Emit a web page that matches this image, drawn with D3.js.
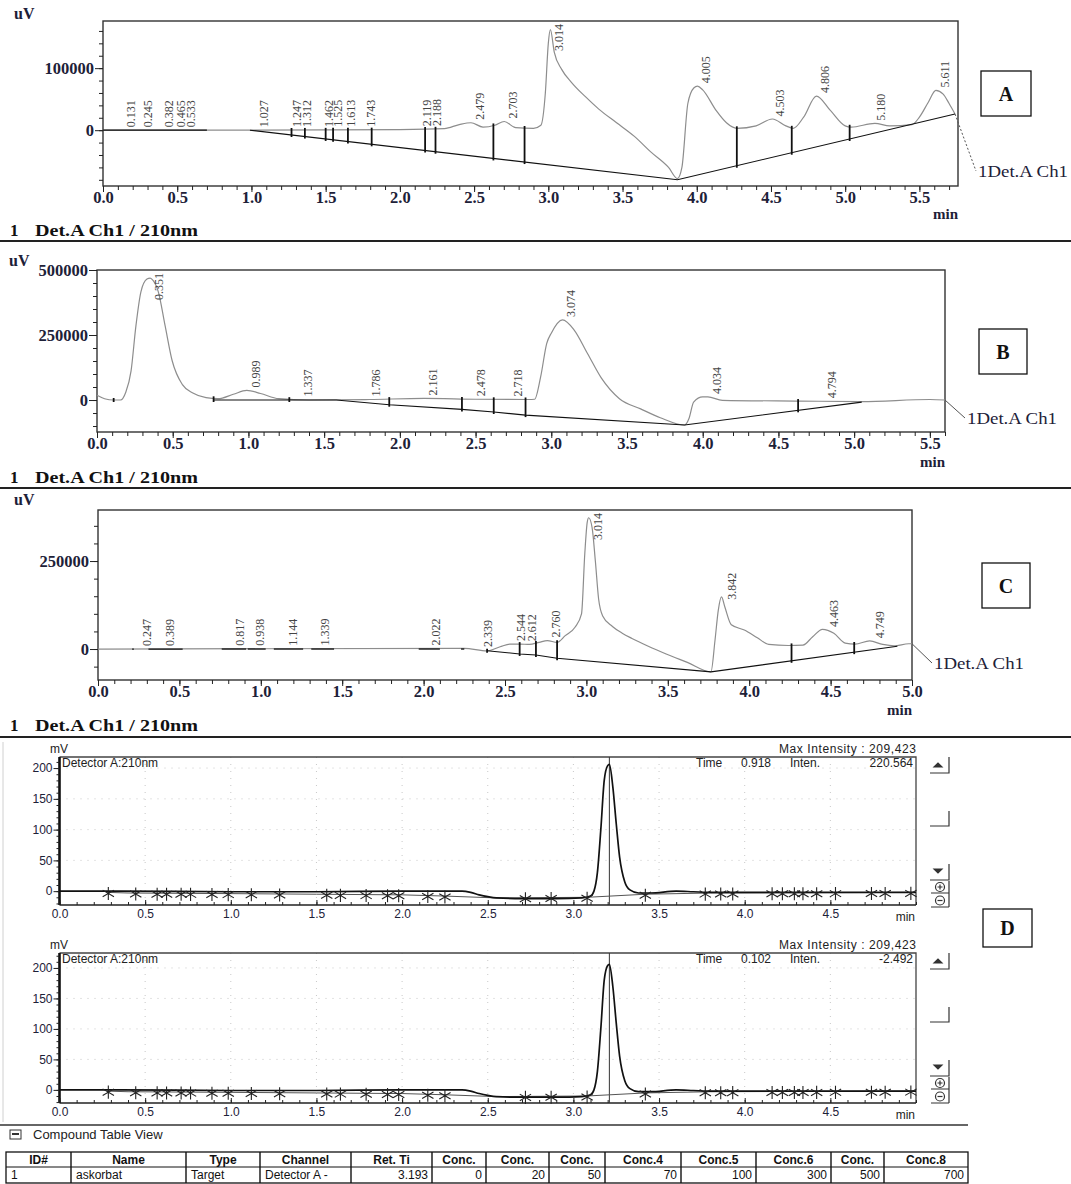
<!DOCTYPE html>
<html lang="en">
<head>
<meta charset="UTF-8">
<title>Chromatograms A-D</title>
<style>
  html, body { margin: 0; padding: 0; background: #fff; }
  svg { display: block; }
</style>
</head>
<body>
<div id="chart"></div>
<script src="https://cdn.jsdelivr.net/npm/d3@7"></script>
<script>
// ---------- data: panel A ----------
const aSigT = [0, 1.0, 2.0, 2.3, 2.4, 2.479, 2.56, 2.64, 2.703, 2.78, 2.9, 2.95, 2.98, 3.0, 3.014, 3.04, 3.09, 3.16, 3.25, 3.34, 3.46, 3.58, 3.69, 3.81, 3.87, 3.9, 3.94, 3.98, 4.005, 4.04, 4.13, 4.2, 4.27, 4.4, 4.51, 4.6, 4.65, 4.72, 4.806, 4.9, 5.0, 5.04, 5.2, 5.3, 5.45, 5.5, 5.56, 5.611, 5.66, 5.7, 5.74];
const aSigV = [0, 0, 1000, 2500, 9000, 12000, 5000, 8000, 14000, 4000, 3000, 8000, 60000, 140000, 162000, 126000, 98000, 76000, 54000, 34000, 12000, -10000, -35000, -60000, -78000, -60000, 43000, 68000, 71000, 65000, 32000, 12000, 3000, 7000, 18000, 7000, 3000, 21000, 55000, 32000, 7000, 5000, 11000, 7000, 9000, 21000, 45000, 64000, 58000, 43000, 26000];
const aBaseT = [0.99, 3.87, 5.74];
const aBaseV = [0, -80000, 26000];
const aFlat = [[0, 0.7]];
const aDrops = [1.27, 1.36, 1.50, 1.55, 1.65, 1.81, 2.17, 2.24, 2.63, 2.84, 4.27, 4.64, 5.03];
const aPeaks = [0.131, 0.245, 0.382, 0.465, 0.533, 1.027, 1.247, 1.312, 1.462, 1.525, 1.613, 1.743, 2.119, 2.188, 2.479, 2.703, 3.014, 4.005, 4.503, 4.806, 5.180, 5.611];

// ---------- data: panel B ----------
const bSigT = [0, 0.05, 0.11, 0.155, 0.19, 0.225, 0.257, 0.29, 0.33, 0.351, 0.37, 0.405, 0.45, 0.496, 0.564, 0.633, 0.72, 0.8, 0.9, 0.989, 1.08, 1.2, 1.4, 1.8, 2.16, 2.5, 2.85, 2.89, 2.93, 2.97, 3.0, 3.074, 3.15, 3.24, 3.33, 3.45, 3.59, 3.72, 3.88, 3.91, 3.94, 4.0, 4.034, 4.13, 4.64, 5.05, 5.5, 5.6];
const bSigV = [18000, 5000, 0, 0, 30000, 112000, 285000, 416000, 465000, 469000, 460000, 416000, 285000, 152000, 59000, 27000, 9000, 5000, 22000, 37000, 25000, 5000, 0, 2000, 6000, 3000, 2000, 3000, 90000, 218000, 257000, 308000, 270000, 178000, 85000, 5000, -34000, -68000, -96000, -70000, -8000, 12000, 12000, -1000, -4000, -6000, 2000, 0];
const bBaseT = [0.77, 1.58, 1.93, 2.41, 2.62, 2.83, 3.88, 5.05];
const bBaseV = [0, 0, -18000, -36000, -46000, -58000, -96000, -8000];
const bFlat = [];
const bDrops = [0.11, 0.77, 1.27, 1.93, 2.41, 2.62, 2.83, 4.63];
const bPeaks = [0.351, 0.989, 1.337, 1.786, 2.161, 2.478, 2.718, 3.074, 4.034, 4.794];

// ---------- data: panel C ----------
const cSigT = [0, 2.25, 2.39, 2.47, 2.53, 2.59, 2.65, 2.71, 2.76, 2.82, 2.87, 2.93, 2.97, 2.99, 3.005, 3.014, 3.035, 3.055, 3.075, 3.1, 3.16, 3.22, 3.28, 3.38, 3.49, 3.62, 3.765, 3.79, 3.81, 3.83, 3.85, 3.89, 3.97, 4.05, 4.12, 4.24, 4.33, 4.39, 4.45, 4.52, 4.59, 4.65, 4.74, 4.82, 4.89, 4.98, 5.0];
const cSigV = [0, 2000, -5000, 6500, 14000, 14000, 13000, 19000, 24000, 19000, 38000, 62000, 100000, 270000, 360000, 373000, 345000, 250000, 142000, 94000, 64000, 45000, 30000, 8000, -14000, -38000, -65000, 25000, 110000, 148000, 120000, 69000, 54000, 32000, 13000, 10000, 11000, 35000, 56000, 45000, 17000, 14000, 23000, 13000, 9000, 15000, 15000];
const cBaseT = [2.39, 2.59, 2.69, 2.82, 3.765, 4.91];
const cBaseV = [-5000, -14000, -17000, -26000, -65000, 8000];
const cFlat = [[0.21, 0.22], [0.31, 0.52], [0.76, 0.91], [0.92, 1.03], [1.08, 1.26], [1.31, 1.45], [1.97, 2.1], [2.23, 2.25]];
const cDrops = [2.39, 2.59, 2.69, 2.82, 4.26, 4.645];
const cPeaks = [0.247, 0.389, 0.817, 0.938, 1.144, 1.339, 2.022, 2.339, 2.544, 2.612, 2.760, 3.014, 3.842, 4.463, 4.749];

// ---------- data: panel D (same run shown twice) ----------
const dSigT = [0, 0.35, 1.0, 1.5, 2.0, 2.35, 2.4, 2.45, 2.5, 2.55, 2.7, 2.9, 3.05, 3.1, 3.12, 3.14, 3.16, 3.18, 3.2, 3.21, 3.23, 3.25, 3.27, 3.3, 3.33, 3.38, 3.45, 3.6, 3.7, 3.8, 4.0, 4.5, 5.0];
const dSigV = [0, 0, -1, -1, 0, 0, -2, -6, -9, -11, -12, -12, -11, -8, 0, 30, 100, 180, 204, 206, 170, 110, 55, 15, 2, -3, -3, 0, -1, -2, -2, -2, -2];
const dBaseT = [0.28, 0.4, 1.0, 1.5, 2.0, 2.25, 2.55, 3.08, 3.42, 3.8, 5.0];
const dBaseV = [-2, -3, -4, -5, -6, -8, -11, -10, -5, -3, -2];
const dStars = [0.285, 0.445, 0.57, 0.625, 0.71, 0.765, 0.89, 0.985, 1.12, 1.285, 1.56, 1.64, 1.79, 1.915, 1.98, 2.15, 2.25, 2.72, 2.87, 3.08, 3.42, 3.77, 3.86, 3.93, 4.16, 4.22, 4.29, 4.34, 4.42, 4.53, 4.74, 4.82, 4.97];
const dCursor = 3.21;
const dTicksY = [0, 50, 100, 150, 200];
const dTicksX = [0, 0.5, 1.0, 1.5, 2.0, 2.5, 3.0, 3.5, 4.0, 4.5];

// ---------- compound table ----------
const tableHead = ["ID#", "Name", "Type", "Channel", "Ret. Ti", "Conc.", "Conc.", "Conc.", "Conc.4", "Conc.5", "Conc.6", "Conc.", "Conc.8"];
const tableRow = ["1", "askorbat", "Target", "Detector A -", "3.193", "0", "20", "50", "70", "100", "300", "500", "700"];

const SERIF = '"Liberation Serif", "DejaVu Serif", serif';
const SANS = '"Liberation Sans", Arial, sans-serif';
const INK = "#1d2138";

const svg = d3.select("#chart").append("svg").attr("width", 1071).attr("height", 1184);
svg.append("rect").attr("width", 1071).attr("height", 1184).attr("fill", "#fff");

function lerp(ts, vs) {
    return d3.scaleLinear().domain(ts).range(vs).clamp(true);
}

function styleAxis(a, size, bold, family) {
    a.select(".domain").remove();
    a.attr("font-family", family).attr("font-size", size)
        .attr("font-weight", bold ? "bold" : "normal").attr("color", "#222");
    a.selectAll("text").attr("fill", INK);
}

function tenths(max) {
    return d3.range(0, Math.floor(max * 10 + 1e-6) + 1).map(i => i / 10);
}

function drawPanel(p) {
    const g = svg.append("g");
    const x = d3.scaleLinear().domain(p.xDomain).range([p.left, p.right]);
    const y = d3.scaleLinear().domain(p.yDomain).range([p.bottom, p.top]);
    const sig = lerp(p.sigT, p.sigV);
    const base = lerp(p.baseT, p.baseV);

    g.append("rect")
        .attr("x", p.left).attr("y", p.top)
        .attr("width", p.right - p.left).attr("height", p.bottom - p.top)
        .attr("fill", "none").attr("stroke", "#333").attr("stroke-width", 1.4);

    // x axis
    const xs = tenths(p.xDomain[1]);
    g.append("g").attr("transform", `translate(0,${p.bottom})`)
        .call(d3.axisBottom(x).tickValues(xs).tickSize(4).tickFormat(""))
        .call(a => styleAxis(a, 16.5, true, SERIF));
    g.append("g").attr("transform", `translate(0,${p.bottom})`)
        .call(d3.axisBottom(x).tickValues(xs.filter((d, i) => i % 5 === 0)).tickSize(6).tickPadding(-1).tickFormat(d3.format(".1f")))
        .call(a => styleAxis(a, 16.5, true, SERIF));

    // y axis
    g.append("g").attr("transform", `translate(${p.left},0)`)
        .call(d3.axisLeft(y).tickValues(p.yMinor).tickSize(4).tickFormat(""))
        .call(a => styleAxis(a, 16.5, true, SERIF));
    g.append("g").attr("transform", `translate(${p.left},0)`)
        .call(d3.axisLeft(y).tickValues(p.yMajor).tickSize(8).tickPadding(1).tickFormat(d3.format("d")))
        .call(a => styleAxis(a, 16.5, true, SERIF));

    const line = d3.line().x(d => x(d[0])).y(d => y(d[1]));

    // signal
    g.append("path")
        .datum(p.sigT.map((t, i) => [t, p.sigV[i]]))
        .attr("fill", "none").attr("stroke", "#8d8d8d").attr("stroke-width", 1.2)
        .attr("d", line.curve(d3.curveMonotoneX));

    // baselines
    line.curve(d3.curveLinear);
    g.append("path")
        .datum(p.baseT.map((t, i) => [t, p.baseV[i]]))
        .attr("fill", "none").attr("stroke", "#111").attr("stroke-width", 1.1)
        .attr("d", line);
    g.selectAll(null).data(p.flat).join("line")
        .attr("x1", d => x(d[0])).attr("x2", d => x(d[1]))
        .attr("y1", y(0)).attr("y2", y(0))
        .attr("stroke", "#111").attr("stroke-width", 1.3);

    // drop lines
    g.selectAll(null).data(p.drops).join("line")
        .attr("x1", d => x(d)).attr("x2", d => x(d))
        .attr("y1", d => y(Math.max(sig(d), base(d))) - 2)
        .attr("y2", d => y(Math.min(sig(d), base(d))) + 2)
        .attr("stroke", "#111").attr("stroke-width", 1.8);

    // retention time labels
    g.selectAll(null).data(p.peaks).join("text")
        .attr("font-family", SERIF).attr("font-size", 12).attr("fill", "#444")
        .text(d => d.toFixed(3))
        .each(function (d) {
            const len = this.getComputedTextLength();
            let yy = y(sig(d)) - 3;
            if (yy - len < p.top + 3) yy = p.top + 3 + len;
            d3.select(this).attr("transform", `translate(${x(d) + 13},${yy}) rotate(-90)`);
        });

    // channel tag
    const tEnd = p.sigT[p.sigT.length - 1];
    g.append("line")
        .attr("x1", x(tEnd)).attr("y1", y(sig(tEnd)))
        .attr("x2", p.tag[0] - 2).attr("y2", p.tag[1] - 6)
        .attr("stroke", "#555").attr("stroke-width", 1)
        .attr("stroke-dasharray", p.tagDash ? "2,2" : null);
    g.append("text").attr("x", p.tag[0]).attr("y", p.tag[1])
        .attr("font-family", SERIF).attr("font-size", 17).attr("fill", INK)
        .attr("textLength", 90).attr("lengthAdjust", "spacingAndGlyphs")
        .text("1Det.A Ch1");

    g.append("text").attr("x", p.uv[0]).attr("y", p.uv[1])
        .attr("font-family", SERIF).attr("font-size", 16).attr("font-weight", "bold").attr("fill", INK)
        .text("uV");
    g.append("text").attr("x", p.right).attr("y", p.minY).attr("text-anchor", "end")
        .attr("font-family", SERIF).attr("font-size", 15).attr("font-weight", "bold").attr("fill", INK)
        .text("min");

    g.append("text").attr("x", 10).attr("y", p.headY)
        .attr("font-family", SERIF).attr("font-size", 17).attr("font-weight", "bold").attr("fill", "#111")
        .text("1");
    g.append("text").attr("x", 35).attr("y", p.headY)
        .attr("font-family", SERIF).attr("font-size", 17).attr("font-weight", "bold").attr("fill", "#111")
        .attr("textLength", 163).attr("lengthAdjust", "spacingAndGlyphs")
        .text("Det.A Ch1 / 210nm");
    g.append("line").attr("x1", 0).attr("x2", 1071).attr("y1", p.sepY).attr("y2", p.sepY)
        .attr("stroke", "#222").attr("stroke-width", 2);

    letterBox(p.box, p.letter);
}

function letterBox(b, letter) {
    svg.append("rect").attr("x", b[0]).attr("y", b[1]).attr("width", b[2]).attr("height", b[3])
        .attr("fill", "#fff").attr("stroke", "#111").attr("stroke-width", 1.3);
    svg.append("text").attr("x", b[0] + b[2] / 2).attr("y", b[1] + b[3] / 2 + 7)
        .attr("text-anchor", "middle")
        .attr("font-family", SERIF).attr("font-size", 20).attr("font-weight", "bold").attr("fill", "#111")
        .text(letter);
}

drawPanel({
    xDomain: [0, 5.76], yDomain: [-90000, 176000], left: 103, right: 958, top: 21, bottom: 186,
    yMinor: d3.range(-80000, 170000, 20000), yMajor: [0, 100000],
    sigT: aSigT, sigV: aSigV, baseT: aBaseT, baseV: aBaseV, flat: aFlat, drops: aDrops, peaks: aPeaks,
    tag: [978, 177], tagDash: true, uv: [14, 19], minY: 219, headY: 236, sepY: 241,
    box: [981, 71, 50, 45], letter: "A"
});

drawPanel({
    xDomain: [0, 5.6], yDomain: [-123000, 500000], left: 97, right: 945, top: 270, bottom: 432,
    yMinor: d3.range(-100000, 500001, 50000), yMajor: [0, 250000, 500000],
    sigT: bSigT, sigV: bSigV, baseT: bBaseT, baseV: bBaseV, flat: bFlat, drops: bDrops, peaks: bPeaks,
    tag: [967, 424], tagDash: false, uv: [9, 266], minY: 467, headY: 483, sepY: 488,
    box: [979, 329, 48, 45], letter: "B"
});

drawPanel({
    xDomain: [0, 5.0], yDomain: [-88000, 395000], left: 98, right: 912, top: 510, bottom: 680,
    yMinor: d3.range(-50000, 350001, 50000), yMajor: [0, 250000],
    sigT: cSigT, sigV: cSigV, baseT: cBaseT, baseV: cBaseV, flat: cFlat, drops: cDrops, peaks: cPeaks,
    tag: [934, 669], tagDash: false, uv: [14, 505], minY: 715, headY: 731, sepY: 737,
    box: [982, 563, 48, 45], letter: "C"
});

// ---------- panel D ----------
function drawD(p) {
    const g = svg.append("g");
    const left = 59.5, right = 916;
    const x = d3.scaleLinear().domain([0, 5.0]).range([left, right]);
    const y = d3.scaleLinear().domain(p.yDomain).range([p.bottom, p.top]);
    const base = lerp(dBaseT, dBaseV);

    // dotted grid
    g.selectAll(null).data(dTicksX.slice(1)).join("line")
        .attr("x1", d => x(d)).attr("x2", d => x(d)).attr("y1", p.top).attr("y2", p.bottom)
        .attr("stroke", "#c8c8c8").attr("stroke-dasharray", "1,6");
    g.selectAll(null).data(dTicksY.slice(1)).join("line")
        .attr("x1", left).attr("x2", right).attr("y1", d => y(d)).attr("y2", d => y(d))
        .attr("stroke", "#c8c8c8").attr("stroke-dasharray", "1,6");

    // frame
    g.append("path").attr("d", `M${left},${p.top}H${right}V${p.bottom}`)
        .attr("fill", "none").attr("stroke", "#444").attr("stroke-width", 1.3);
    g.append("line").attr("x1", left).attr("x2", right).attr("y1", p.bottom).attr("y2", p.bottom)
        .attr("stroke", "#222").attr("stroke-width", 1.6);
    g.append("line").attr("x1", left).attr("x2", left).attr("y1", p.top).attr("y2", p.bottom)
        .attr("stroke", "#111").attr("stroke-width", 2.6);

    // axes
    g.append("g").attr("transform", `translate(${left},0)`)
        .call(d3.axisLeft(y).tickValues(d3.range(-20, p.yDomain[1], 10)).tickSize(3).tickFormat(""))
        .call(a => styleAxis(a, 12, false, SANS));
    g.append("g").attr("transform", `translate(${left},0)`)
        .call(d3.axisLeft(y).tickValues(dTicksY).tickSize(6).tickPadding(1))
        .call(a => styleAxis(a, 12, false, SANS));
    g.append("g").attr("transform", `translate(0,${p.bottom})`)
        .call(d3.axisBottom(x).tickValues(tenths(5.0)).tickSizeInner(-3).tickSizeOuter(0).tickFormat(""))
        .call(a => styleAxis(a, 12, false, SANS));
    g.append("g").attr("transform", `translate(0,${p.bottom})`)
        .call(d3.axisBottom(x).tickValues(dTicksX).tickSizeInner(-5).tickSizeOuter(0).tickPadding(4).tickFormat(d3.format(".1f")))
        .call(a => styleAxis(a, 12, false, SANS));

    // cursor
    g.append("line").attr("x1", x(dCursor)).attr("x2", x(dCursor)).attr("y1", p.top).attr("y2", p.bottom)
        .attr("stroke", "#333").attr("stroke-width", 1);

    // baseline + signal
    const line = d3.line().x(d => x(d[0])).y(d => y(d[1]));
    g.append("path").datum(dBaseT.map((t, i) => [t, dBaseV[i]]))
        .attr("fill", "none").attr("stroke", "#555").attr("stroke-width", 1)
        .attr("d", line);
    g.append("path").datum(dSigT.map((t, i) => [t, dSigV[i]]))
        .attr("fill", "none").attr("stroke", "#111").attr("stroke-width", 1.7)
        .attr("d", line.curve(d3.curveMonotoneX));

    // peak markers
    const star = d3.symbol().type(d3.symbolAsterisk).size(120);
    g.selectAll(null).data(dStars).join("path")
        .attr("transform", d => `translate(${x(d)},${y(base(d)) + 1})`)
        .attr("d", star).attr("fill", "none").attr("stroke", "#222").attr("stroke-width", 1.1);

    // texts
    const txt = (tx, ty, s, anchor) => g.append("text").attr("x", tx).attr("y", ty)
        .attr("text-anchor", anchor || "start")
        .attr("font-family", SANS).attr("font-size", 12).attr("fill", "#222").text(s);
    txt(50, p.top - 4, "mV");
    txt(62, p.top + 10, "Detector A:210nm");
    txt(right, p.top - 4, "Max Intensity : 209,423", "end").attr("textLength", 137);
    txt(696, p.top + 10, "Time");
    txt(741, p.top + 10, p.time);
    txt(790, p.top + 10, "Inten.");
    txt(right - 3, p.top + 10, p.inten, "end");
    txt(right - 1, p.bottom + 16, "min", "end");

    // side controls
    const c = g.append("g").attr("fill", "none").attr("stroke", "#333").attr("stroke-width", 1.2);
    const t0 = p.top;
    c.append("path").attr("d", `M930,${t0 + 16}H949V${t0}`);
    c.append("path").attr("d", `M934,${t0 + 10}H942L938,${t0 + 6}Z`).attr("fill", "#333");
    c.append("path").attr("d", `M930,${t0 + 69}H949V${t0 + 54}`);
    c.append("path").attr("d", `M930,${t0 + 123}H949V${t0 + 107}`);
    c.append("path").attr("d", `M934,${t0 + 112}H942L938,${t0 + 116}Z`).attr("fill", "#333");
    c.append("path").attr("d", `M931,${t0 + 136}H949M931,${t0 + 150}H949M949,${t0 + 124}V${t0 + 150}`);
    c.append("circle").attr("cx", 940).attr("cy", t0 + 130).attr("r", 4.5);
    c.append("path").attr("d", `M937.5,${t0 + 130}H942.5M940,${t0 + 127.5}V${t0 + 132.5}`);
    c.append("circle").attr("cx", 940).attr("cy", t0 + 143.5).attr("r", 4.5);
    c.append("path").attr("d", `M937.5,${t0 + 143.5}H942.5`);
}

drawD({ top: 757, bottom: 905, yDomain: [-22.5, 218], time: "0.918", inten: "220.564" });
drawD({ top: 953, bottom: 1103, yDomain: [-21.5, 224.5], time: "0.102", inten: "-2.492" });
letterBox([983, 909, 49, 38], "D");

svg.append("line").attr("x1", 3).attr("x2", 3).attr("y1", 742).attr("y2", 1122)
    .attr("stroke", "#d0d0d0");

// ---------- compound table ----------
svg.append("line").attr("x1", 0).attr("x2", 968).attr("y1", 1125).attr("y2", 1125)
    .attr("stroke", "#333").attr("stroke-width", 1.3);
svg.append("rect").attr("x", 10).attr("y", 1130).attr("width", 11).attr("height", 9)
    .attr("fill", "none").attr("stroke", "#333");
svg.append("line").attr("x1", 12).attr("x2", 19).attr("y1", 1134).attr("y2", 1134).attr("stroke", "#333").attr("stroke-width", 2);
svg.append("text").attr("x", 33).attr("y", 1139)
    .attr("font-family", SANS).attr("font-size", 13).attr("fill", "#222").text("Compound Table View");

const colEdges = [6, 71, 186, 260, 351, 432, 486, 549, 605, 681, 756, 831, 884, 968];
const colX = d3.scaleOrdinal().domain(d3.range(tableHead.length)).range(colEdges.slice(0, -1));
const tab = svg.append("g").attr("font-family", SANS).attr("font-size", 12).attr("fill", "#111");
tab.append("rect").attr("x", colEdges[0]).attr("y", 1152).attr("width", colEdges[13] - colEdges[0]).attr("height", 31)
    .attr("fill", "none").attr("stroke", "#111").attr("stroke-width", 1.3);
tab.append("line").attr("x1", colEdges[0]).attr("x2", colEdges[13]).attr("y1", 1167).attr("y2", 1167)
    .attr("stroke", "#111");
tab.selectAll(null).data(colEdges.slice(1, -1)).join("line")
    .attr("x1", d => d).attr("x2", d => d).attr("y1", 1152).attr("y2", 1183)
    .attr("stroke", "#111").attr("stroke-width", 1.4);
tab.selectAll(null).data(tableHead).join("text")
    .attr("x", (d, i) => (colEdges[i] + colEdges[i + 1]) / 2).attr("y", 1164)
    .attr("text-anchor", "middle").attr("font-weight", "bold").text(d => d);
tab.selectAll(null).data(tableRow).join("text")
    .attr("x", (d, i) => i < 4 ? colX(i) + 5 : colEdges[i + 1] - 4).attr("y", 1179)
    .attr("text-anchor", (d, i) => i < 4 ? "start" : "end").text(d => d);
</script>
</body>
</html>
